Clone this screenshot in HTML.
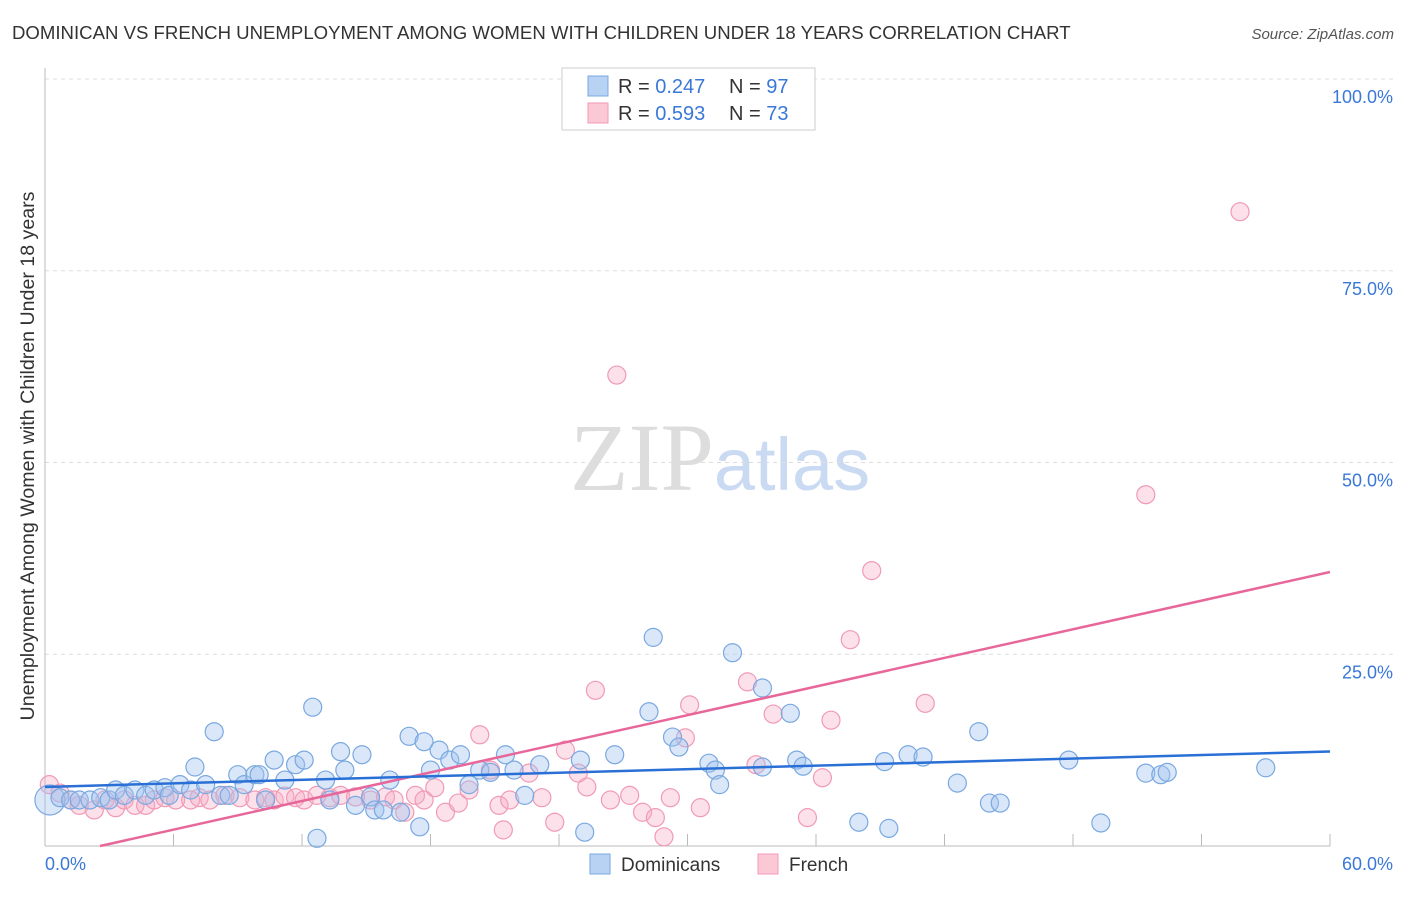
<!DOCTYPE html>
<html><head><meta charset="utf-8"><style>
body{margin:0;background:#fff;font-family:"Liberation Sans",sans-serif}
</style></head><body>
<svg id="chart" width="1406" height="892" xmlns="http://www.w3.org/2000/svg">
<text x="12" y="39" font-size="18.6" fill="#333">DOMINICAN VS FRENCH UNEMPLOYMENT AMONG WOMEN WITH CHILDREN UNDER 18 YEARS CORRELATION CHART</text>
<text x="1394" y="39" font-size="15" fill="#555" text-anchor="end" font-style="italic">Source: ZipAtlas.com</text>
<text transform="translate(34,456) rotate(-90)" font-size="19.6" fill="#333" text-anchor="middle">Unemployment Among Women with Children Under 18 years</text>
<text x="720" y="490" font-size="96" text-anchor="middle" fill="#ddd" font-family="Liberation Serif,serif">ZIP<tspan fill="#c9daf2" font-family="Liberation Sans,sans-serif" font-size="74">atlas</tspan></text>
<g id="grid"></g><g id="marks"></g>
<g>
<rect x="562" y="68" width="253" height="62" fill="#fff" stroke="#ccc"/>
<rect x="588" y="76" width="20" height="20" fill="#b8d2f4" stroke="#7aa8e0"/>
<rect x="588" y="103" width="20" height="20" fill="#fbc8d6" stroke="#f09ab6"/>
<text x="618" y="93" font-size="20" fill="#333">R = <tspan fill="#3a78d8">0.247</tspan><tspan x="729">N = </tspan><tspan fill="#3a78d8">97</tspan></text>
<text x="618" y="120" font-size="20" fill="#333">R = <tspan fill="#3a78d8">0.593</tspan><tspan x="729">N = </tspan><tspan fill="#3a78d8">73</tspan></text>
</g>
<g>
<rect x="590" y="854" width="20" height="20" fill="#b8d2f4" stroke="#7aa8e0"/>
<text x="621" y="871" font-size="19" fill="#333">Dominicans</text>
<rect x="758" y="854" width="20" height="20" fill="#fbc8d6" stroke="#f09ab6"/>
<text x="789" y="871" font-size="19" fill="#333">French</text>
</g>
</svg>
<script>
const yTicks=[100,75,50,25];
const yTickLabels=["100.0%","75.0%","50.0%","25.0%"];
const xLabels=["0.0%","60.0%"];
const xTicks=[6,12,18,24,30,36,42,48,54,60];
const domX=[0.23,0.7,1.2,1.6,2.1,2.6,3.0,3.3,3.7,4.2,4.7,5.1,5.6,5.8,6.3,6.8,7.0,7.5,7.9,8.2,8.6,9.0,9.3,9.8,10.0,10.3,10.7,11.2,11.7,12.1,12.5,12.7,13.1,13.3,13.8,14.0,14.5,14.8,15.2,15.4,15.8,16.1,16.6,17.0,17.5,17.7,18.0,18.4,18.9,19.4,19.8,20.3,20.8,21.5,21.9,22.4,23.1,25.0,25.2,26.6,28.2,28.4,29.3,29.6,31.0,31.3,31.5,32.1,33.5,33.5,34.8,35.1,35.4,38.0,39.2,39.4,40.3,41.0,42.6,43.6,44.1,44.6,47.8,49.3,51.4,52.1,52.4,57.0];
const domY=[6.0,6.3,6.0,6.0,6.0,6.3,6.0,7.3,6.6,7.3,6.6,7.3,7.6,6.6,8.0,7.3,10.3,8.0,14.9,6.6,6.6,9.3,8.0,9.3,9.3,6.0,11.2,8.6,10.6,11.2,18.1,1.0,8.6,6.0,12.3,9.9,5.3,11.9,6.4,4.7,4.7,8.6,4.4,14.3,2.5,13.6,9.9,12.5,11.2,11.9,8.0,9.9,9.6,11.9,9.9,6.6,10.6,11.2,1.8,11.9,17.5,27.2,14.2,12.9,10.8,9.9,8.0,25.2,20.6,10.3,17.3,11.2,10.4,3.1,11.0,2.3,11.9,11.6,8.2,14.9,5.6,5.6,11.2,3.0,9.5,9.3,9.6,10.2];
const frX=[0.2,0.7,1.2,1.6,2.3,2.8,3.3,3.7,4.2,4.7,5.1,5.6,6.1,6.8,7.2,7.7,8.4,9.1,9.8,10.3,10.7,11.2,11.7,12.1,12.7,13.3,13.8,14.5,15.2,15.9,16.3,16.8,17.3,17.7,18.2,18.7,19.3,19.8,20.3,20.8,21.2,21.4,21.7,22.6,23.2,23.8,24.3,24.9,25.3,25.7,26.4,26.7,27.3,27.9,28.5,28.9,29.2,29.9,30.1,30.6,32.8,33.2,34.0,35.6,36.3,36.7,37.6,38.6,41.1,51.4,55.8];
const frY=[8.0,6.9,6.0,5.3,4.7,6.0,5.0,6.0,5.3,5.3,6.0,6.3,6.0,6.0,6.3,6.0,6.6,6.3,6.0,6.3,6.0,6.5,6.3,6.0,6.6,6.3,6.6,6.4,6.0,6.4,6.0,4.4,6.6,6.0,7.6,4.4,5.6,7.3,14.5,9.9,5.3,2.1,6.0,9.5,6.3,3.1,12.5,9.5,7.7,20.3,6.0,61.4,6.6,4.4,3.7,1.2,6.3,14.1,18.4,5.0,21.4,10.6,17.2,3.7,8.9,16.4,26.9,35.9,18.6,45.8,82.7];
const domLine=[7.7,0.077];   // intercept, slope
const frLine=[-1.6,0.622];
const NS="http://www.w3.org/2000/svg";
const X=v=>45+v*1285/60, Y=v=>846-v*7.67;
function mk(t,a,p){const e=document.createElementNS(NS,t);for(const k in a)e.setAttribute(k,a[k]);p.appendChild(e);return e;}
const grid=document.getElementById('grid'),marks=document.getElementById('marks');
yTicks.forEach((t,i)=>{
 const l=mk('line',{x1:45,x2:1394,y1:Y(t),y2:Y(t),stroke:'#ddd','stroke-dasharray':'4,4'},grid);
 
 
 const tx=mk('text',{x:1393,y:Y(t)+24,'font-size':18,fill:'#3a78d8','text-anchor':'end'},grid);
 tx.textContent=yTickLabels[i];
 
 
});
const ax=mk('line',{x1:45,x2:45,y1:68,y2:846,stroke:'#bbb'},grid);


const bx=mk('line',{x1:45,x2:1330,y1:846,y2:846,stroke:'#bbb'},grid);


xTicks.forEach(v=>{const t=mk('line',{x1:X(v),x2:X(v),y1:834,y2:846,stroke:'#bbb'},grid);
 
 });
[[0,'start',45],[1,'end',1393]].forEach(([i,a,x])=>{const t=mk('text',{x:x,y:870,'font-size':18,fill:'#3a78d8','text-anchor':a},grid);t.textContent=xLabels[i];
 
 });
function pts(xs,ys,fill,stroke,name){xs.forEach((x,i)=>{
 const c=mk('circle',{cx:X(x),cy:Y(ys[i]),r:(name==='dominican-point'&&i===0)?15:9,fill:fill,stroke:stroke,'stroke-width':1.2},marks);
 
 });}
pts(frX,frY,'rgba(246,170,196,0.35)','#f09ab6','french-point');
pts(domX,domY,'rgba(160,196,240,0.4)','#7aa8e0','dominican-point');
const x0f=-frLine[0]/frLine[1];
const lf=mk('line',{x1:X(x0f),y1:Y(0),x2:X(60),y2:Y(frLine[0]+frLine[1]*60),stroke:'#e8679a','stroke-width':2.5},marks);


const ld=mk('line',{x1:X(0),y1:Y(domLine[0]),x2:X(60),y2:Y(domLine[0]+domLine[1]*60),stroke:'#2a6fd6','stroke-width':2.5},marks);


</script>
</body></html>
